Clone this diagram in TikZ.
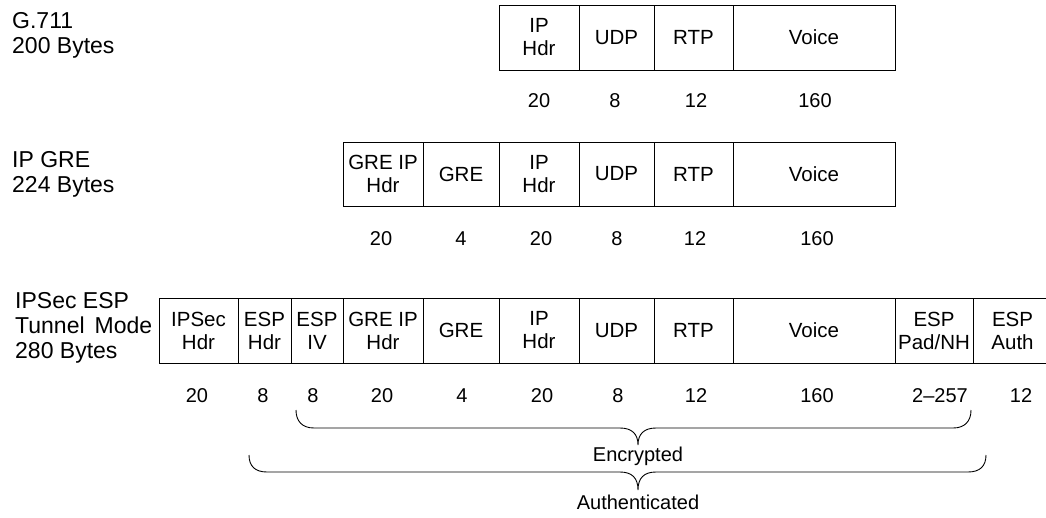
\documentclass[tikz,border=0pt]{standalone}
\usepackage{fontspec}
\setmainfont{Liberation Sans}
\newcommand{\pcell}[6]{%
  \node[cell, minimum width={(#3-#2)*1pt}, minimum height={(#5-#4)*1pt}] (#1) at ({(#2+#3)/2},{(#4+#5)/2}) {#6};}
\begin{document}
\begin{tikzpicture}[x=1pt,y=-1pt,
  cell/.style={draw, line width=0.9pt, rectangle, inner sep=0pt, align=center,
    font=\fontsize{20.5}{23}\selectfont},
  num/.style={font=\fontsize{20}{23}\selectfont, inner sep=0pt},
  lbl/.style={font=\fontsize{23}{25}\selectfont, inner sep=0pt, anchor=base west},
  caption/.style={font=\fontsize{20}{23}\selectfont, inner sep=0pt, anchor=base},
  brace/.style={line width=0.9pt}]
\useasboundingbox (0,0) rectangle (1046,517);

% ---- Row 1: G.711
\node[lbl] (l1a) at (12,28) {G.711};
\node[lbl] (l1b) at (12,53) {200 Bytes};
\pcell{a1}{499}{579}{5}{70}{IP\\Hdr}
\pcell{a2}{579}{654}{5}{70}{UDP}
\pcell{a3}{654}{733}{5}{70}{RTP}
\pcell{a4}{733}{895}{5}{70}{Voice}
\node[num] (na1) at (539,101) {20};
\node[num] (na2) at (615,101) {8};
\node[num] (na3) at (696,101) {12};
\node[num] (na4) at (815,101) {160};

% ---- Row 2: IP GRE
\node[lbl] (l2a) at (12,167) {IP GRE};
\node[lbl] (l2b) at (12,192) {224 Bytes};
\pcell{b1}{343}{423}{142}{206}{GRE IP\\Hdr}
\pcell{b2}{423}{499}{142}{206}{GRE}
\pcell{b3}{499}{579}{142}{206}{IP\\Hdr}
\pcell{b4}{579}{654}{142}{206}{UDP}
\pcell{b5}{654}{733}{142}{206}{RTP}
\pcell{b6}{733}{895}{142}{206}{Voice}
\node[num] (nb1) at (381,239) {20};
\node[num] (nb2) at (461,239) {4};
\node[num] (nb3) at (541,239) {20};
\node[num] (nb4) at (617,239) {8};
\node[num] (nb5) at (695,239) {12};
\node[num] (nb6) at (817,239) {160};

% ---- Row 3: IPSec ESP Tunnel Mode
\node[lbl] (l3a) at (15,308) {IPSec ESP};
\node[lbl] (l3b) at (15,333) {\makebox[137pt][s]{Tunnel Mode}};
\node[lbl] (l3c) at (15,358) {280 Bytes};
\pcell{c1}{159}{238}{298}{363}{IPSec\\Hdr}
\pcell{c2}{238}{291}{298}{363}{ESP\\Hdr}
\pcell{c3}{291}{343}{298}{363}{ESP\\IV}
\pcell{c4}{343}{423}{298}{363}{GRE IP\\Hdr}
\pcell{c5}{423}{499}{298}{363}{GRE}
\pcell{c6}{499}{579}{298}{363}{IP\\Hdr}
\pcell{c7}{579}{654}{298}{363}{UDP}
\pcell{c8}{654}{733}{298}{363}{RTP}
\pcell{c9}{733}{895}{298}{363}{Voice}
\pcell{c10}{895}{973}{298}{363}{ESP\\Pad/NH}
\pcell{c11}{973}{1052}{298}{363}{ESP\\Auth}
\node[num] (nc1) at (197,396) {20};
\node[num] (nc2) at (263,396) {8};
\node[num] (nc3) at (313,396) {8};
\node[num] (nc4) at (382,396) {20};
\node[num] (nc5) at (462,396) {4};
\node[num] (nc6) at (542,396) {20};
\node[num] (nc7) at (618,396) {8};
\node[num] (nc8) at (696,396) {12};
\node[num] (nc9) at (817,396) {160};
\node[num] (nc10) at (940,396) {2--257};
\node[num] (nc11) at (1021,396) {12};

% ---- Braces
\coordinate (eL) at (296,410);
\coordinate (eR) at (971,410);
\coordinate (eT) at (638,445);
\draw[brace] (eL) .. controls (296,421) and (302,428) .. (314,428) -- (620,428)
  .. controls (632,428) and (638,434) .. (eT)
  .. controls (638,434) and (644,428) .. (656,428) -- (953,428)
  .. controls (965,428) and (971,421) .. (eR);
\node[caption] (enc) at (638,461) {Encrypted};

\coordinate (aL) at (249,455);
\coordinate (aR) at (986,455);
\coordinate (aT) at (638,490);
\draw[brace] (aL) .. controls (249,466) and (255,472) .. (267,472) -- (620,472)
  .. controls (632,472) and (638,478) .. (aT)
  .. controls (638,478) and (644,472) .. (656,472) -- (968,472)
  .. controls (980,472) and (986,466) .. (aR);
\node[caption] (auth) at (638,509) {Authenticated};
\end{tikzpicture}
\end{document}
